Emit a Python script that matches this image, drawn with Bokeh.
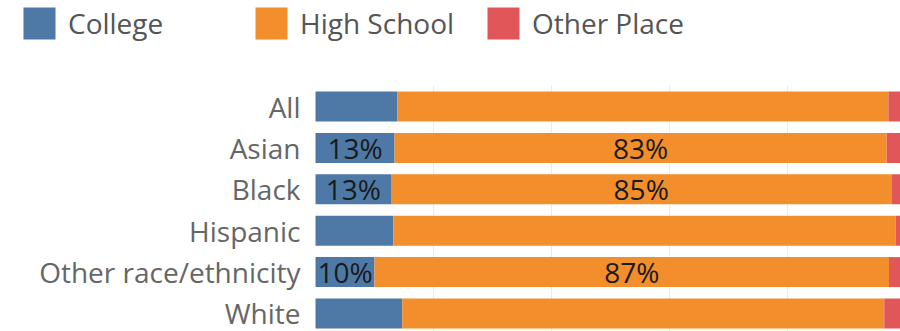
from bokeh.plotting import figure
from bokeh.models import ColumnDataSource, FixedTicker, Range1d, Legend, LegendItem, BoxAnnotation
from bokeh.core.properties import value
from bokeh.embed import file_html
from bokeh.resources import INLINE

categories = ["All", "Asian", "Black", "Hispanic", "Other race/ethnicity", "White"]
college = [0.139, 0.134, 0.128, 0.132, 0.100, 0.147]
high_school = [0.832, 0.834, 0.848, 0.851, 0.872, 0.817]
other_place = [0.029, 0.032, 0.024, 0.017, 0.028, 0.036]
college_labels = ["", "13%", "13%", "", "10%", ""]
hs_labels = ["", "83%", "85%", "", "87%", ""]
series = ["College", "High School", "Other Place"]
colors = ["#4e79a7", "#f28e2b", "#e15759"]
grid_ticks = [0.2, 0.4, 0.6, 0.8]

n = len(categories)
ypos = [n - 1 - i for i in range(n)]

source = ColumnDataSource(dict(
    y=ypos,
    cat=categories,
    zero=[0.0] * n,
    college=college,
    hs=high_school,
    other=other_place,
    c_x=[c / 2 for c in college],
    h_x=[c + h / 2 for c, h in zip(college, high_school)],
    c_lab=college_labels,
    h_lab=hs_labels,
))

FONT = "Open Sans"

p = figure(width=900, height=331, output_backend="svg", toolbar_location=None,
           x_range=Range1d(-0.5339, 0.9915), y_range=Range1d(-0.4348, 7.5604),
           x_axis_location=None, y_axis_location=None, min_border=0)
p.outline_line_color = None
p.background_fill_color = "white"

p.ygrid.visible = False
p.xgrid.ticker = FixedTicker(ticks=grid_ticks)
p.xgrid.grid_line_color = "#ebebeb"
p.xgrid.grid_line_width = 1

# white cover so grid lines only appear in the bar area
cover = BoxAnnotation(bottom=n - 1 + 0.507, fill_color="white", fill_alpha=1.0,
                      line_color=None, level="underlay")
p.add_layout(cover)

renderers = p.hbar_stack(["college", "hs", "other"], y="y", height=0.725, color=colors,
                         line_color=None, source=source)

p.text(x="c_x", y="y", text="c_lab", source=source, text_align="center",
       text_baseline="middle", text_font=value(FONT), text_font_size="28px",
       text_color="#1a1a1a")
p.text(x="h_x", y="y", text="h_lab", source=source, text_align="center",
       text_baseline="middle", text_font=value(FONT), text_font_size="28px",
       text_color="#1a1a1a")

# category labels (left of the bars)
p.text(x="zero", y="y", text="cat", source=source, x_offset=-15, text_align="right",
       text_baseline="middle", text_font=value(FONT), text_font_size="28px",
       text_color="#666666")

lg = Legend(items=[LegendItem(label=s, renderers=[r]) for s, r in zip(series, renderers)])
lg.orientation = "horizontal"
lg.location = (19, 288)
lg.margin = 0
lg.padding = 0
lg.spacing = 7
lg.glyph_width = 40
lg.glyph_height = 40
lg.label_height = 40
lg.label_width = 176
lg.label_standoff = 9
lg.label_text_font = FONT
lg.label_text_font_size = "28px"
lg.label_text_color = "#555555"
lg.border_line_color = None
lg.background_fill_alpha = 0
p.add_layout(lg, "center")

open("out.html", "w").write(file_html(p, INLINE))
